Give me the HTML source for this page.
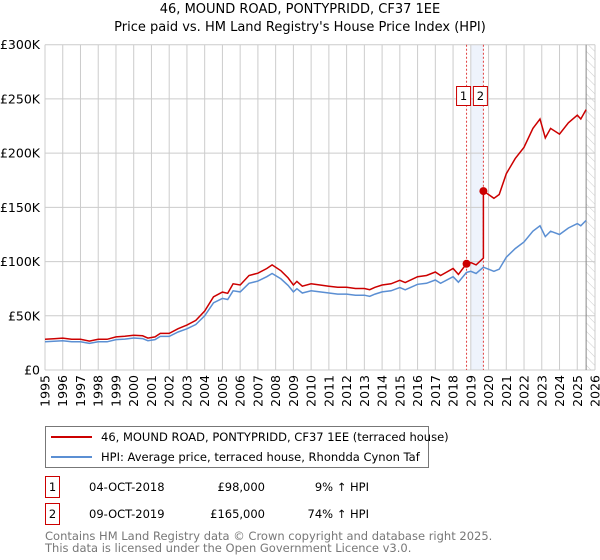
<!DOCTYPE html>
<html><head><meta charset="utf-8"><style>
body{margin:0;background:#fff;font-family:"Liberation Sans","DejaVu Sans",sans-serif;}
#wrap{position:relative;width:600px;height:560px;overflow:hidden;}
</style></head><body>
<div id="wrap">
<svg id="chart" width="600" height="560" xmlns="http://www.w3.org/2000/svg" font-family="DejaVu Sans, Liberation Sans, sans-serif">
<defs><pattern id="hatch" width="6" height="6" patternUnits="userSpaceOnUse" patternTransform="rotate(-45)"><line x1="0" y1="0" x2="0" y2="6" stroke="#ccc" stroke-width="1"/></pattern></defs>
<text x="300" y="13" text-anchor="middle" font-size="13" fill="#000">46, MOUND ROAD, PONTYPRIDD, CF37 1EE</text>
<text x="300" y="31" text-anchor="middle" font-size="13" fill="#000">Price paid vs. HM Land Registry's House Price Index (HPI)</text>
<g id="grid"></g><g id="marks"></g><g id="axes"></g>
<g>
<rect x="45.5" y="426.5" width="383" height="41" fill="#fff" stroke="#777"/>
<line x1="51" y1="437" x2="92" y2="437" stroke="#cc0000" stroke-width="2"/>
<text x="101" y="441" font-size="11.5">46, MOUND ROAD, PONTYPRIDD, CF37 1EE (terraced house)</text>
<line x1="51" y1="457" x2="92" y2="457" stroke="#5b8fd3" stroke-width="2"/>
<text x="101" y="461" font-size="11.5">HPI: Average price, terraced house, Rhondda Cynon Taf</text>
</g>
<g font-size="11.5">
<rect x="45.5" y="476.5" width="14" height="21" fill="#fff" stroke="#cc0000"/>
<text x="52.5" y="491" text-anchor="middle">1</text>
<text x="89" y="491">04-OCT-2018</text>
<text x="265" y="491" text-anchor="end">£98,000</text>
<text x="369" y="491" text-anchor="end">9% ↑ HPI</text>
<rect x="45.5" y="503.5" width="14" height="21" fill="#fff" stroke="#cc0000"/>
<text x="52.5" y="518" text-anchor="middle">2</text>
<text x="89" y="518">09-OCT-2019</text>
<text x="265" y="518" text-anchor="end">£165,000</text>
<text x="369" y="518" text-anchor="end">74% ↑ HPI</text>
</g>
<text x="45" y="540" font-size="11.5" fill="#777">Contains HM Land Registry data © Crown copyright and database right 2025.</text>
<text x="45" y="552" font-size="11.5" fill="#777">This data is licensed under the Open Government Licence v3.0.</text>
</svg>
</div>
<script>
const hpiYears = [1995,1995.5,1996,1996.5,1997,1997.5,1998,1998.5,1999,1999.5,2000,2000.5,2000.8,2001.2,2001.5,2002,2002.5,2003,2003.5,2004,2004.5,2005,2005.3,2005.6,2006,2006.5,2007,2007.5,2007.8,2008.3,2008.7,2009,2009.2,2009.5,2010,2010.5,2011,2011.5,2012,2012.5,2013,2013.3,2013.6,2014,2014.5,2015,2015.3,2016,2016.5,2017,2017.3,2018,2018.3,2018.76,2019,2019.3,2019.71,2020,2020.3,2020.6,2021,2021.5,2022,2022.5,2022.9,2023.2,2023.5,2024,2024.5,2025,2025.2,2025.5];
const hpiValues = [26,26.5,27,26,26,24.5,26,26,28,28.5,29.5,29,27,28,31,31,35,38,42,50,62,66,65,73,72,80,82,86,89,84,78,72,75,71,73,72,71,70,70,69,69,68,70,72,73,76,74,79,80,83,80,86,81,90,91,89,94.8,93,91,93,104,112,118,128,133,123,128,125,131,135,133,138];
const saleYears = [2018.76, 2019.71];
const salePrices = [98, 165];
const yTicks = [0,50,100,150,200,250,300];
const yTickLabels = ["£0","£50K","£100K","£150K","£200K","£250K","£300K"];
const xTicks = [1995,1996,1997,1998,1999,2000,2001,2002,2003,2004,2005,2006,2007,2008,2009,2010,2011,2012,2013,2014,2015,2016,2017,2018,2019,2020,2021,2022,2023,2024,2025,2026];

const NS="http://www.w3.org/2000/svg";
const X0=45,X1=595,Y0=370,Y1=44.7;
const xs=y=>X0+(y-1995)/(2026-1995)*(X1-X0);
const ys=v=>Y0-v/300*(Y0-Y1);
function mk(tag,attrs,parent){const e=document.createElementNS(NS,tag);for(const k in attrs)e.setAttribute(k,attrs[k]);parent.appendChild(e);return e;}
const grid=document.getElementById('grid'),marks=document.getElementById('marks'),axes=document.getElementById('axes');

// shaded band & hatch
const band=mk('rect',{x:xs(2019.0),y:Y1,width:xs(saleYears[1])-xs(2019.0),height:Y0-Y1,fill:'#eef3fc'},grid);


const hatch=mk('rect',{x:xs(2025.5),y:Y1,width:X1-xs(2025.5),height:Y0-Y1,fill:'url(#hatch)'},grid);



yTicks.forEach((v,i)=>{
  const l=mk('line',{x1:X0,x2:X1,y1:ys(v),y2:ys(v),stroke:'#ccc','stroke-width':1},grid);
  
  
  const t=mk('text',{x:40,y:ys(v)+4.5,'text-anchor':'end','font-size':12.5},axes);
  t.textContent=yTickLabels[i];
  
  
});
xTicks.forEach(y=>{
  const l=mk('line',{x1:xs(y),x2:xs(y),y1:Y1,y2:Y0,stroke:'#ccc','stroke-width':1},grid);
  
  
  const t=mk('text',{x:0,y:0,'text-anchor':'end','font-size':12.5,transform:`translate(${xs(y)+4.5},375) rotate(-90)`},axes);
  t.textContent=y;
  
  
});
const vline=mk('line',{x1:xs(2025.5),x2:xs(2025.5),y1:Y1,y2:Y0,stroke:'#888','stroke-width':1},grid);



// sale lines and badges
saleYears.forEach((sy,i)=>{
  const l=mk('line',{x1:xs(sy),x2:xs(sy),y1:Y1,y2:Y0,stroke:'#e04040','stroke-width':1,'stroke-dasharray':'2,2'},grid);
  
  
  const r=mk('rect',{x:xs(sy)-10,y:86.5,width:14,height:19,fill:'#fff',stroke:'#cc0000'},marks);
  
  
  const t=mk('text',{x:xs(sy)-3,y:100,'text-anchor':'middle','font-size':11.5},marks);
  t.textContent=String(i+1);
  
  
});

function interp(y){for(let i=0;i<hpiYears.length-1;i++){if(y>=hpiYears[i]&&y<=hpiYears[i+1]){const f=(y-hpiYears[i])/(hpiYears[i+1]-hpiYears[i]);return hpiValues[i]+f*(hpiValues[i+1]-hpiValues[i]);}}return hpiValues[hpiValues.length-1];}

const hp=mk('path',{d:hpiYears.map((y,i)=>(i?'L':'M')+xs(y).toFixed(1)+','+ys(hpiValues[i]).toFixed(1)).join(''),fill:'none',stroke:'#5b8fd3','stroke-width':1.5},marks);



// property line: HPI-indexed from each sale
const r1=salePrices[0]/interp(saleYears[0]), r2=salePrices[1]/interp(saleYears[1]);
let d='';
hpiYears.forEach((y,i)=>{
  if(y<saleYears[1]){d+=(d?'L':'M')+xs(y).toFixed(1)+','+ys(hpiValues[i]*r1).toFixed(1);}
});
d+='L'+xs(saleYears[1]).toFixed(1)+','+ys(interp(saleYears[1])*r1).toFixed(1);
d+='L'+xs(saleYears[1]).toFixed(1)+','+ys(salePrices[1]).toFixed(1);
hpiYears.forEach((y,i)=>{if(y>saleYears[1])d+='L'+xs(y).toFixed(1)+','+ys(hpiValues[i]*r2).toFixed(1);});
const pp=mk('path',{d:d,fill:'none',stroke:'#cc0000','stroke-width':1.5},marks);



saleYears.forEach((sy,i)=>{
  const c=mk('circle',{cx:xs(sy),cy:ys(salePrices[i]),r:4,fill:'#cc0000'},marks);
  
  
});
</script>
</body></html>
